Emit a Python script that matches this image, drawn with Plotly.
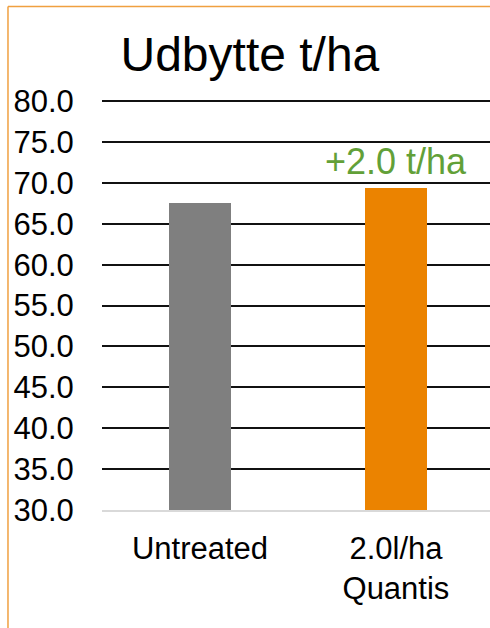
import plotly.graph_objects as go

categories = ["Untreated", "2.0l/ha<br>Quantis"]
values = [67.5, 69.4]
bar_colors = ["#7F7F7F", "#EB8300"]
tick_vals = [30, 35, 40, 45, 50, 55, 60, 65, 70, 75, 80]
tick_text = [f"{v:.1f}" for v in tick_vals]
diff_label = "+2.0 t/ha"
title_text = "Udbytte t/ha"

FONT = "Liberation Sans, Arial, sans-serif"

fig = go.Figure()
fig.add_trace(go.Bar(
    x=categories, y=values, marker=dict(color=bar_colors, line=dict(width=0)),
    width=0.316, showlegend=False, hoverinfo="skip",
))

fig.add_annotation(
    x=categories[1], y=values[1], xref="x", yref="y",
    text=diff_label, showarrow=False, xanchor="center", yanchor="bottom",
    yshift=4, font=dict(family=FONT, size=36, color="#62A038"),
)

# orange frame (left and top edges of the chart area)
fig.add_shape(type="line", xref="paper", yref="paper",
              x0=-0.2423, x1=-0.2423, y0=-0.5, y1=1.228,
              line=dict(color="#F0A040", width=1.5))
fig.add_shape(type="line", xref="paper", yref="paper",
              x0=-0.2423, x1=1.2, y0=1.228, y1=1.228,
              line=dict(color="#F0A040", width=1.5))

fig.update_layout(
    width=490, height=628,
    margin=dict(l=102, r=0, t=100, b=118, autoexpand=False),
    paper_bgcolor="white", plot_bgcolor="white",
    bargap=0,
    title=dict(text=title_text, x=0.51, xanchor="center", xref="container",
               y=0.913, yanchor="middle", yref="container",
               font=dict(family=FONT, size=48, color="black")),
    font=dict(family=FONT, color="black"),
    xaxis=dict(
        range=[-0.5, 1.48], showgrid=False, zeroline=False, automargin=False,
        showline=True, linecolor="#D9D9D9", linewidth=1.5,
        ticks="outside", ticklen=10, tickcolor="rgba(0,0,0,0)",
        tickfont=dict(family=FONT, size=31, color="black"),
    ),
    yaxis=dict(
        range=[30, 80.15], tickvals=tick_vals, ticktext=tick_text,
        showgrid=True, gridcolor="#111111", gridwidth=1.7, automargin=False,
        zeroline=False, showline=False,
        ticks="outside", ticklen=21, tickcolor="rgba(0,0,0,0)",
        tickfont=dict(family=FONT, size=31, color="black"),
    ),
)

fig.write_html("out.html", config={"displayModeBar": False},
               post_script="document.body.style.margin='0px';")
